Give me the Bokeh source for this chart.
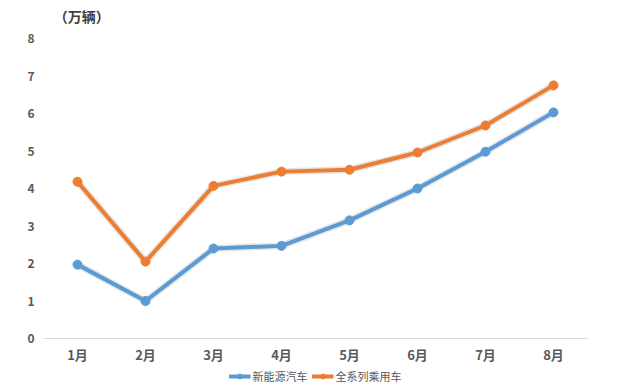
from bokeh.plotting import figure
from bokeh.models import ColumnDataSource, Range1d, Legend, LegendItem
from bokeh.core.properties import value
from bokeh.layouts import column
from bokeh.embed import file_html
from bokeh.resources import INLINE

months = ["1月", "2月", "3月", "4月", "5月", "6月", "7月", "8月"]
nev = [1.97, 1.0, 2.4, 2.47, 3.15, 4.0, 4.98, 6.03]
allcars = [4.18, 2.05, 4.07, 4.45, 4.5, 4.96, 5.68, 6.75]
y_ticks = [0, 1, 2, 3, 4, 5, 6, 7, 8]
unit_label = "（万辆）"
series_names = ["新能源汽车", "全系列乘用车"]

font = "Noto Sans CJK SC"
blue = "#5B9BD5"
orange = "#ED7D31"

# header strip with the unit label (pixel-like ranges)
hd = figure(width=632, height=24, x_range=Range1d(0, 632), y_range=Range1d(0, 24),
            output_backend="svg", toolbar_location=None,
            x_axis_location=None, y_axis_location=None,
            min_border_left=0, min_border_right=0, min_border_top=0, min_border_bottom=0)
hd.grid.visible = False
hd.outline_line_color = None
hd.text(x=[12], y=[9], text=[unit_label], text_font=value(font), text_font_size="14px",
        text_font_style="bold", text_color="#404040", text_baseline="middle", text_align="left")

src = ColumnDataSource(dict(m=months, nev=nev, allcars=allcars))

p = figure(width=632, height=342, x_range=months, y_range=Range1d(0, 8),
           output_backend="svg", toolbar_location=None,
           min_border_left=43, min_border_right=45, min_border_top=14, min_border_bottom=28)
p.x_range.range_padding = 0
p.outline_line_color = None
p.xgrid.grid_line_color = None
p.ygrid.grid_line_color = None
p.background_fill_color = "white"
p.border_fill_color = "white"

p.yaxis.ticker = y_ticks
p.yaxis.axis_line_color = None
p.yaxis.major_tick_line_color = None
p.yaxis.minor_tick_line_color = None
p.yaxis.major_tick_out = 0
p.yaxis.major_label_text_font = font
p.yaxis.major_label_text_font_size = "12px"
p.yaxis.major_label_text_font_style = "bold"
p.yaxis.major_label_text_color = "#595959"
p.yaxis.major_label_standoff = 9

p.xaxis.axis_line_color = "#d9d9d9"
p.xaxis.axis_line_width = 1
p.xaxis.major_tick_line_color = None
p.xaxis.minor_tick_line_color = None
p.xaxis.major_tick_out = 0
p.xaxis.major_label_text_font = font
p.xaxis.major_label_text_font_size = "13px"
p.xaxis.major_label_text_font_style = "bold"
p.xaxis.major_label_text_color = "#595959"
p.xaxis.major_label_standoff = 6

for col in ["nev", "allcars"]:
    p.line("m", col, source=src, line_color="#000000", line_alpha=0.10, line_width=7)

p.line("m", "nev", source=src, line_color=blue, line_width=4)
p.scatter("m", "nev", source=src, size=9, fill_color=blue, line_color=blue)
p.line("m", "allcars", source=src, line_color=orange, line_width=4)
p.scatter("m", "allcars", source=src, size=9, fill_color=orange, line_color=orange)

# legend strip below the chart (its renderers hold no visible data)
lg = figure(width=632, height=20, x_range=Range1d(0, 1), y_range=Range1d(0, 1),
            output_backend="svg", toolbar_location=None,
            x_axis_location=None, y_axis_location=None,
            min_border_left=0, min_border_right=0, min_border_top=0, min_border_bottom=0)
lg.grid.visible = False
lg.outline_line_color = None
hidden = ColumnDataSource(dict(x=[-10, -9], y=[-10, -9]))
r1l = lg.line("x", "y", source=hidden, line_color=blue, line_width=4)
r1c = lg.scatter("x", "y", source=hidden, size=9, fill_color=blue, line_color=blue)
r2l = lg.line("x", "y", source=hidden, line_color=orange, line_width=4)
r2c = lg.scatter("x", "y", source=hidden, size=9, fill_color=orange, line_color=orange)

legend = Legend(items=[LegendItem(label=series_names[0], renderers=[r1l, r1c]),
                       LegendItem(label=series_names[1], renderers=[r2l, r2c])],
                orientation="horizontal", location="center",
                label_text_font=font, label_text_font_size="11px",
                label_text_color="#595959", glyph_width=22, glyph_height=12,
                spacing=4, padding=0, margin=0, label_standoff=2,
                border_line_color=None, background_fill_alpha=0)
lg.add_layout(legend, "center")

open("out.html", "w").write(file_html(column(hd, p, lg, spacing=0), INLINE))
